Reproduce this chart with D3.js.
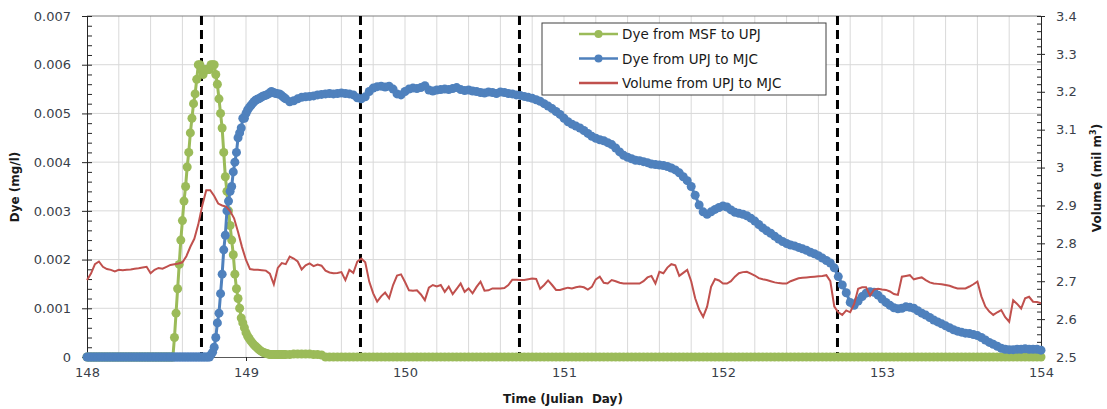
<!DOCTYPE html>
<html>
<head>
<meta charset="utf-8">
<script src="https://cdn.jsdelivr.net/npm/d3@7"></script>
<style>
  body { margin: 0; background: #fff; }
  text { font-family: "DejaVu Sans", Verdana, sans-serif; }
</style>
</head>
<body>
<div id="chart-area"></div>
<script>
// Dye series sampled every 0.01 day from 148.00 to 149.24
const FINE_START = 148, FINE_STEP = 0.01
// then every 0.025 day from 149.25 to 154.00
const COARSE_START = 149.25, COARSE_STEP = 0.025
// volume sampled every 0.025 day from 148.00 to 154.00
const VOL_START = 148, VOL_STEP = 0.025

const msfFine = [
	0,0,0,0,0,0,0,0,0,0, // 148.0
	0,0,0,0,0,0,0,0,0,0, // 148.1
	0,0,0,0,0,0,0,0,0,0, // 148.2
	0,0,0,0,0,0,0,0,0,0, // 148.3
	0,0,0,0,0,0,0,0,0,0, // 148.4
	0,0,0,0,0,0.0004,0.0009,0.0014,0.0019,0.0024, // 148.5
	0.0028,0.0032,0.0035,0.0039,0.0042,0.0046,0.0049,0.0052,0.0054,0.0057, // 148.6
	0.0060,0.0060,0.0059,0.0058,0.0059,0.0059,0.0059,0.0059,0.0060,0.0060, // 148.7
	0.0060,0.0058,0.0056,0.0053,0.0050,0.0047,0.0042,0.0037,0.0034,0.0030, // 148.8
	0.0027,0.0024,0.0021,0.0017,0.0014,0.0012,0.0010,0.0008,0.0007,0.0006, // 148.9
	0.0005,0.00043,0.00038,0.00033,0.00029,0.00025,0.00022,0.00019,0.00016,0.00013, // 149.0
	0.00011,0.00009,0.00008,0.00007,0.00006,0.00005,0.00005,0.00005,0.00005,0.00005, // 149.1
	0.00005,0.00005,0.00005,0.00005,0.00005 // 149.2
]
const msfCoarse = [
	0.00005,0.00005,0.00006,0.00006,0.00006,0.00006,0.00006,0.00005,0.00005,0.00004, // 149.25
	0,0,0,0,0,0,0,0,0,0, // 149.50
	0,0,0,0,0,0,0,0,0,0, // 149.75
	0,0,0,0,0,0,0,0,0,0, // 150.00
	0,0,0,0,0,0,0,0,0,0, // 150.25
	0,0,0,0,0,0,0,0,0,0, // 150.50
	0,0,0,0,0,0,0,0,0,0, // 150.75
	0,0,0,0,0,0,0,0,0,0, // 151.00
	0,0,0,0,0,0,0,0,0,0, // 151.25
	0,0,0,0,0,0,0,0,0,0, // 151.50
	0,0,0,0,0,0,0,0,0,0, // 151.75
	0,0,0,0,0,0,0,0,0,0, // 152.00
	0,0,0,0,0,0,0,0,0,0, // 152.25
	0,0,0,0,0,0,0,0,0,0, // 152.50
	0,0,0,0,0,0,0,0,0,0, // 152.75
	0,0,0,0,0,0,0,0,0,0, // 153.00
	0,0,0,0,0,0,0,0,0,0, // 153.25
	0,0,0,0,0,0,0,0,0,0, // 153.50
	0,0,0,0,0,0,0,0,0,0, // 153.75
	0 // 154.00
]

const mjcFine = [
	0,0,0,0,0,0,0,0,0,0, // 148.0
	0,0,0,0,0,0,0,0,0,0, // 148.1
	0,0,0,0,0,0,0,0,0,0, // 148.2
	0,0,0,0,0,0,0,0,0,0, // 148.3
	0,0,0,0,0,0,0,0,0,0, // 148.4
	0,0,0,0,0,0,0,0,0,0, // 148.5
	0,0,0,0,0,0,0,0,0,0, // 148.6
	0,0,0,0,0,0,0,0,0.00005,0.0001, // 148.7
	0.0002,0.0004,0.0007,0.0009,0.0013,0.0017,0.0022,0.0025,0.0030,0.0032, // 148.8
	0.0034,0.0035,0.0038,0.0040,0.0042,0.0045,0.0046,0.0047,0.0049,0.0049, // 148.9
	0.0050,0.00507,0.00512,0.00516,0.0052,0.00524,0.00527,0.00529,0.0053,0.00532, // 149.0
	0.00534,0.00536,0.00537,0.00538,0.0054,0.00542,0.00545,0.00543,0.00542,0.00541, // 149.1
	0.0054,0.0054,0.00538,0.00535,0.00532 // 149.2
]
const mjcCoarse = [
	0.00530,0.00524,0.00526,0.00530,0.00533,0.00534,0.00535,0.00536,0.00538,0.00539, // 149.25
	0.00540,0.00541,0.00540,0.00541,0.00542,0.00541,0.00540,0.00538,0.00532,0.00530, // 149.50
	0.00534,0.00545,0.00552,0.00555,0.00556,0.00554,0.00556,0.00550,0.00540,0.00538, // 149.75
	0.00545,0.00550,0.00552,0.00551,0.00553,0.00557,0.00548,0.00546,0.00548,0.00549, // 150.00
	0.00550,0.00549,0.00551,0.00553,0.00549,0.00547,0.00548,0.00546,0.00545,0.00543, // 150.25
	0.00542,0.00544,0.00543,0.00541,0.00544,0.00543,0.00541,0.00540,0.00538,0.00537, // 150.50
	0.00535,0.00533,0.00531,0.00528,0.00525,0.00520,0.00515,0.00510,0.00504,0.00498, // 150.75
	0.00490,0.00483,0.00478,0.00474,0.00470,0.00465,0.00459,0.00453,0.00449,0.00446, // 151.00
	0.00444,0.00440,0.00436,0.00429,0.00421,0.00414,0.00410,0.00407,0.00404,0.00403, // 151.25
	0.00401,0.00399,0.00396,0.00395,0.00394,0.00393,0.00391,0.00388,0.00384,0.00378, // 151.50
	0.00370,0.00362,0.00350,0.00332,0.00312,0.00298,0.00293,0.00298,0.00303,0.00307, // 151.75
	0.00310,0.00308,0.00302,0.00297,0.00295,0.00293,0.00290,0.00285,0.00279,0.00272, // 152.00
	0.00265,0.00259,0.00254,0.00248,0.00242,0.00237,0.00233,0.00230,0.00228,0.00225, // 152.25
	0.00222,0.00219,0.00215,0.00212,0.00208,0.00203,0.00198,0.00193,0.00183,0.00165, // 152.50
	0.00148,0.00132,0.00112,0.00106,0.00115,0.00124,0.00131,0.00134,0.00133,0.00127, // 152.75
	0.00119,0.00112,0.00106,0.00101,0.00099,0.00100,0.00103,0.00102,0.00100,0.00095, // 153.00
	0.00090,0.00086,0.00081,0.00076,0.00072,0.00068,0.00064,0.00060,0.00056,0.00053, // 153.25
	0.00051,0.00049,0.00048,0.00046,0.00044,0.00040,0.00035,0.00030,0.00026,0.00022, // 153.50
	0.00018,0.00016,0.00015,0.00015,0.00016,0.00016,0.00017,0.00016,0.00016,0.00016, // 153.75
	0.00014 // 154.00
]

const volume = [
	2.703,2.720,2.745,2.752,2.738,2.732,2.730,2.726,2.730,2.729, // 148.00
	2.730,2.731,2.733,2.734,2.736,2.738,2.721,2.730,2.735,2.733, // 148.25
	2.738,2.743,2.745,2.747,2.750,2.766,2.791,2.812,2.850,2.900, // 148.50
	2.940,2.940,2.925,2.905,2.900,2.897,2.885,2.866,2.830,2.790, // 148.75
	2.756,2.732,2.730,2.730,2.729,2.728,2.720,2.692,2.735,2.748, // 149.00
	2.745,2.765,2.760,2.752,2.731,2.742,2.747,2.740,2.744,2.741, // 149.25
	2.728,2.723,2.721,2.722,2.724,2.703,2.730,2.722,2.752,2.760, // 149.50
	2.750,2.699,2.668,2.646,2.660,2.670,2.655,2.690,2.715,2.718, // 149.75
	2.698,2.676,2.675,2.676,2.665,2.650,2.683,2.690,2.686,2.690, // 150.00
	2.672,2.686,2.666,2.680,2.694,2.672,2.681,2.668,2.685,2.699, // 150.25
	2.675,2.676,2.681,2.681,2.681,2.682,2.690,2.704,2.704,2.703, // 150.50
	2.703,2.705,2.707,2.706,2.680,2.690,2.702,2.690,2.677,2.677, // 150.75
	2.680,2.683,2.681,2.684,2.686,2.684,2.678,2.685,2.705,2.712, // 151.00
	2.696,2.694,2.703,2.700,2.696,2.694,2.694,2.694,2.694,2.694, // 151.25
	2.700,2.710,2.714,2.694,2.725,2.721,2.736,2.745,2.742,2.714, // 151.50
	2.722,2.730,2.700,2.655,2.625,2.606,2.633,2.685,2.706,2.702, // 151.75
	2.694,2.694,2.700,2.712,2.721,2.724,2.725,2.720,2.715,2.708, // 152.00
	2.705,2.703,2.700,2.697,2.695,2.694,2.694,2.700,2.704,2.708, // 152.25
	2.709,2.710,2.711,2.712,2.713,2.714,2.716,2.700,2.633,2.618, // 152.50
	2.611,2.623,2.618,2.640,2.680,2.684,2.684,2.662,2.678,2.680, // 152.75
	2.678,2.677,2.673,2.666,2.664,2.712,2.714,2.716,2.705,2.708, // 153.00
	2.710,2.703,2.697,2.694,2.693,2.692,2.690,2.688,2.684,2.681, // 153.25
	2.681,2.681,2.686,2.692,2.699,2.660,2.633,2.620,2.611,2.618, // 153.50
	2.624,2.605,2.593,2.650,2.640,2.628,2.655,2.659,2.646,2.645, // 153.75
	2.642 // 154.00
]

// dashed reference lines (Julian day)
const markerDays = [148.72, 149.72, 150.72, 152.72]
const dayTicks = [148, 149, 150, 151, 152, 153, 154]
const dyeTicks = [0, 0.001, 0.002, 0.003, 0.004, 0.005, 0.006, 0.007]
const volTicks = [2.5, 2.6, 2.7, 2.8, 2.9, 3.0, 3.1, 3.2, 3.3, 3.4]
const legendLabels = ['Dye from MSF to UPJ', 'Dye from UPJ to MJC', 'Volume from UPJ to MJC']

const GREEN = '#9BBB59', BLUE = '#4F81BD', RED = '#C0504D'

// Sizing
const W = 1107, H = 409
const PLOT = { LEFT: 87, RIGHT: 1041, TOP: 16, BOTTOM: 357 }

const svg = d3.select('#chart-area').append('svg')
	.attr('width', W)
	.attr('height', H)

const x = d3.scaleLinear().domain([148, 154]).range([PLOT.LEFT, PLOT.RIGHT])
const y = d3.scaleLinear().domain([0, 0.007]).range([PLOT.BOTTOM, PLOT.TOP])
const y2 = d3.scaleLinear().domain([2.5, 3.4]).range([PLOT.BOTTOM, PLOT.TOP])

function series(start, step, vals) {
	return vals.map((v, i) => ({ t: start + i * step, v: v }))
}
const msf = series(FINE_START, FINE_STEP, msfFine).concat(series(COARSE_START, COARSE_STEP, msfCoarse))
const mjc = series(FINE_START, FINE_STEP, mjcFine).concat(series(COARSE_START, COARSE_STEP, mjcCoarse))
const vol = series(VOL_START, VOL_STEP, volume)

// gridlines
const grid = svg.append('g').attr('class', 'grid')
grid.selectAll('line.v')
	.data(d3.range(1, 30).map(i => 148 + i * 0.2))
	.enter().append('line')
	.attr('x1', d => x(d)).attr('x2', d => x(d))
	.attr('y1', PLOT.TOP).attr('y2', PLOT.BOTTOM)
	.attr('stroke', '#d9d9d9').attr('stroke-width', 1)
grid.selectAll('line.h')
	.data(dyeTicks.slice(1))
	.enter().append('line')
	.attr('x1', PLOT.LEFT).attr('x2', PLOT.RIGHT)
	.attr('y1', d => y(d)).attr('y2', d => y(d))
	.attr('stroke', (d, i) => i === dyeTicks.length - 2 ? '#7f7f7f' : '#d9d9d9')
	.attr('stroke-width', 1)

// axes
const fmtDye = d => d === 0 ? '0' : d3.format('.3f')(d)
const fmtVol = d => String(+d.toFixed(1))

const minorDye = d3.range(0, 36).map(i => i * 0.0002)
const minorVol = d3.range(0, 46).map(i => 2.5 + i * 0.02)

function styleAxis(g) {
	g.selectAll('path').attr('stroke', '#262626')
	g.selectAll('line').attr('stroke', '#262626')
	g.selectAll('text')
		.attr('fill', '#3a3f4a')
		.attr('font-size', '13px')
}

const xAxisGroup = svg.append('g')
	.attr('transform', `translate(0, ${PLOT.BOTTOM})`)
	.call(d3.axisBottom(x).tickValues(dayTicks).tickFormat(d3.format('d')).tickSizeOuter(0).tickSize(4).tickPadding(7))
	.call(styleAxis)
xAxisGroup.select('path').attr('stroke', '#595959')

svg.append('g')
	.attr('transform', `translate(${PLOT.LEFT}, 0)`)
	.call(d3.axisLeft(y).tickValues(dyeTicks).tickFormat(fmtDye).tickSizeOuter(0).tickSize(5).tickPadding(11))
	.call(styleAxis)
svg.append('g')
	.attr('transform', `translate(${PLOT.LEFT}, 0)`)
	.call(d3.axisRight(y).tickValues(minorDye).tickFormat('').tickSizeOuter(0).tickSize(5))
	.call(styleAxis)

svg.append('g')
	.attr('transform', `translate(${PLOT.RIGHT}, 0)`)
	.call(d3.axisRight(y2).tickValues(volTicks).tickFormat(fmtVol).tickSizeOuter(0).tickSize(4).tickPadding(11))
	.call(styleAxis)
svg.append('g')
	.attr('transform', `translate(${PLOT.RIGHT}, 0)`)
	.call(d3.axisLeft(y2).tickValues(minorVol).tickFormat('').tickSizeOuter(0).tickSize(4))
	.call(styleAxis)

// axis titles
svg.append('text')
	.attr('x', 563).attr('y', 403)
	.attr('text-anchor', 'middle')
	.attr('font-size', '12px').attr('font-weight', 'bold')
	.attr('fill', '#1a1a1a')
	.style('white-space', 'pre')
	.text('Time (Julian  Day)')

svg.append('text')
	.attr('transform', 'translate(19, 187) rotate(-90)')
	.attr('text-anchor', 'middle')
	.attr('font-size', '12px').attr('font-weight', 'bold')
	.attr('fill', '#1a1a1a')
	.text('Dye (mg/l)')

const vTitle = svg.append('text')
	.attr('transform', 'translate(1101, 178) rotate(-90)')
	.attr('text-anchor', 'middle')
	.attr('font-size', '12px').attr('font-weight', 'bold')
	.attr('fill', '#1a1a1a')
vTitle.append('tspan').text('Volume (mil m')
vTitle.append('tspan').text('3').attr('font-size', '8px').attr('dy', -5)
vTitle.append('tspan').text(')').attr('dy', 5)

// dashed day markers
svg.selectAll('line.marker')
	.data(markerDays)
	.enter().append('line')
	.attr('x1', d => x(d)).attr('x2', d => x(d))
	.attr('y1', PLOT.TOP).attr('y2', PLOT.BOTTOM)
	.attr('stroke', '#000').attr('stroke-width', 3)
	.attr('stroke-dasharray', '9,5')

// dye series
function drawDye(data, color) {
	const line = d3.line().x(d => x(d.t)).y(d => y(d.v))
	const g = svg.append('g')
	g.append('path')
		.datum(data)
		.attr('d', line)
		.attr('fill', 'none')
		.attr('stroke', color)
		.attr('stroke-width', 3)
	g.selectAll('circle')
		.data(data)
		.enter().append('circle')
		.attr('cx', d => x(d.t))
		.attr('cy', d => y(d.v))
		.attr('r', 4.5)
		.attr('fill', color)
}
drawDye(msf, GREEN)
drawDye(mjc, BLUE)

// volume
svg.append('path')
	.datum(vol)
	.attr('d', d3.line().x(d => x(d.t)).y(d => y2(d.v)))
	.attr('fill', 'none')
	.attr('stroke', RED)
	.attr('stroke-width', 2)

// legend
const legend = svg.append('g').attr('transform', 'translate(542, 23)')
legend.append('rect')
	.attr('width', 284).attr('height', 72)
	.attr('fill', '#fff')
	.attr('stroke', '#404040').attr('stroke-width', 1)
const items = legend.selectAll('g.item')
	.data(legendLabels)
	.enter().append('g')
	.attr('transform', (d, i) => `translate(0, ${11 + i * 24.5})`)
items.append('line')
	.attr('x1', 37).attr('x2', 76)
	.attr('stroke', (d, i) => [GREEN, BLUE, RED][i])
	.attr('stroke-width', 2.5)
items.filter((d, i) => i < 2).append('circle')
	.attr('cx', 56.5).attr('r', 4)
	.attr('fill', (d, i) => [GREEN, BLUE][i])
items.append('text')
	.attr('x', 80).attr('y', 5)
	.attr('font-size', '13.5px')
	.attr('fill', '#1a1a1a')
	.text(d => d)
</script>
</body>
</html>
